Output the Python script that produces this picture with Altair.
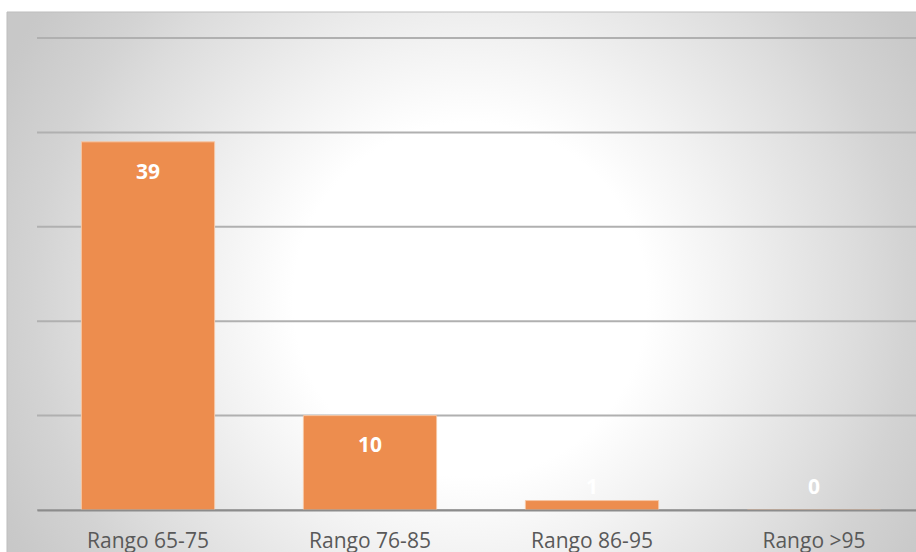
import altair as alt
import pandas as pd

# Chart values
categories = ["Rango 65-75", "Rango 76-85", "Rango 86-95", "Rango >95"]
counts = [39, 10, 1, 0]
grid_ticks = [0, 10, 20, 30, 40, 50]

W, H = 879, 472
FONT = "Open Sans"

bars_df = pd.DataFrame({"rango": categories, "n": counts})
grid_df = pd.DataFrame({"tick": grid_ticks})
bg_df = pd.DataFrame({"k": [0]})

x_scale = alt.Scale(domain=categories, range=[0, 888], paddingInner=0.4, paddingOuter=0.2)
y_scale = alt.Scale(domain=[0, 50], nice=False, zero=True)

# soft radial backdrop behind the plot
backdrop = alt.Chart(bg_df).mark_rect(
    fill={
        "gradient": "radial",
        "x1": 0.504, "y1": 0.515, "r1": 0,
        "x2": 0.504, "y2": 0.515, "r2": 0.566,
        "stops": [
            {"offset": 0.0, "color": "#ffffff"},
            {"offset": 0.34, "color": "#ffffff"},
            {"offset": 0.5, "color": "#f2f2f2"},
            {"offset": 0.75, "color": "#dcdcdc"},
            {"offset": 0.84, "color": "#d3d3d3"},
            {"offset": 0.98, "color": "#c9c9c9"},
            {"offset": 1.0, "color": "#c8c8c8"},
        ],
    },
    stroke="#bdbdbd",
    strokeWidth=1,
).encode(
    x=alt.value(-30), x2=alt.value(W + 10),
    y=alt.value(-26), y2=alt.value(H + 50),
)

grid = alt.Chart(grid_df).mark_rule(color="#b0b0b0", strokeWidth=2).encode(
    y=alt.Y("tick:Q", scale=y_scale, axis=None),
)

bars = alt.Chart(bars_df).mark_bar(
    color="#ed8d4e", stroke="#f6c6a4", strokeWidth=1
).encode(
    x=alt.X(
        "rango:N", scale=x_scale, sort=categories, title=None,
        axis=alt.Axis(
            labelFont=FONT, labelFontSize=21, labelColor="#595959",
            labelAngle=0, ticks=False, domain=True, domainColor="#8c8c8c",
            domainWidth=2, labelBaseline="alphabetic", labelPadding=37,
            grid=False, zindex=1,
        ),
    ),
    y=alt.Y("n:Q", scale=y_scale, axis=None),
)

# value labels sit just inside the bar top, never lower than a fixed floor
labels = alt.Chart(bars_df).transform_calculate(
    pos="max(datum.n - 3.27, 2.28)"
).mark_text(
    font=FONT, fontSize=21, fontWeight="bold", color="white",
    baseline="middle", align="center",
).encode(
    x=alt.X("rango:N", scale=x_scale, sort=categories),
    y=alt.Y("pos:Q", scale=y_scale, axis=None),
    text=alt.Text("n:Q"),
)

chart = alt.layer(backdrop, grid, bars, labels).properties(
    width=W,
    height=H,
    padding={"left": 37, "top": 38, "right": 0, "bottom": 42},
    autosize=alt.AutoSizeParams(type="none"),
    background="white",
).configure_view(strokeWidth=0)

chart.save("out.html", embed_options={"renderer": "svg", "actions": False})
